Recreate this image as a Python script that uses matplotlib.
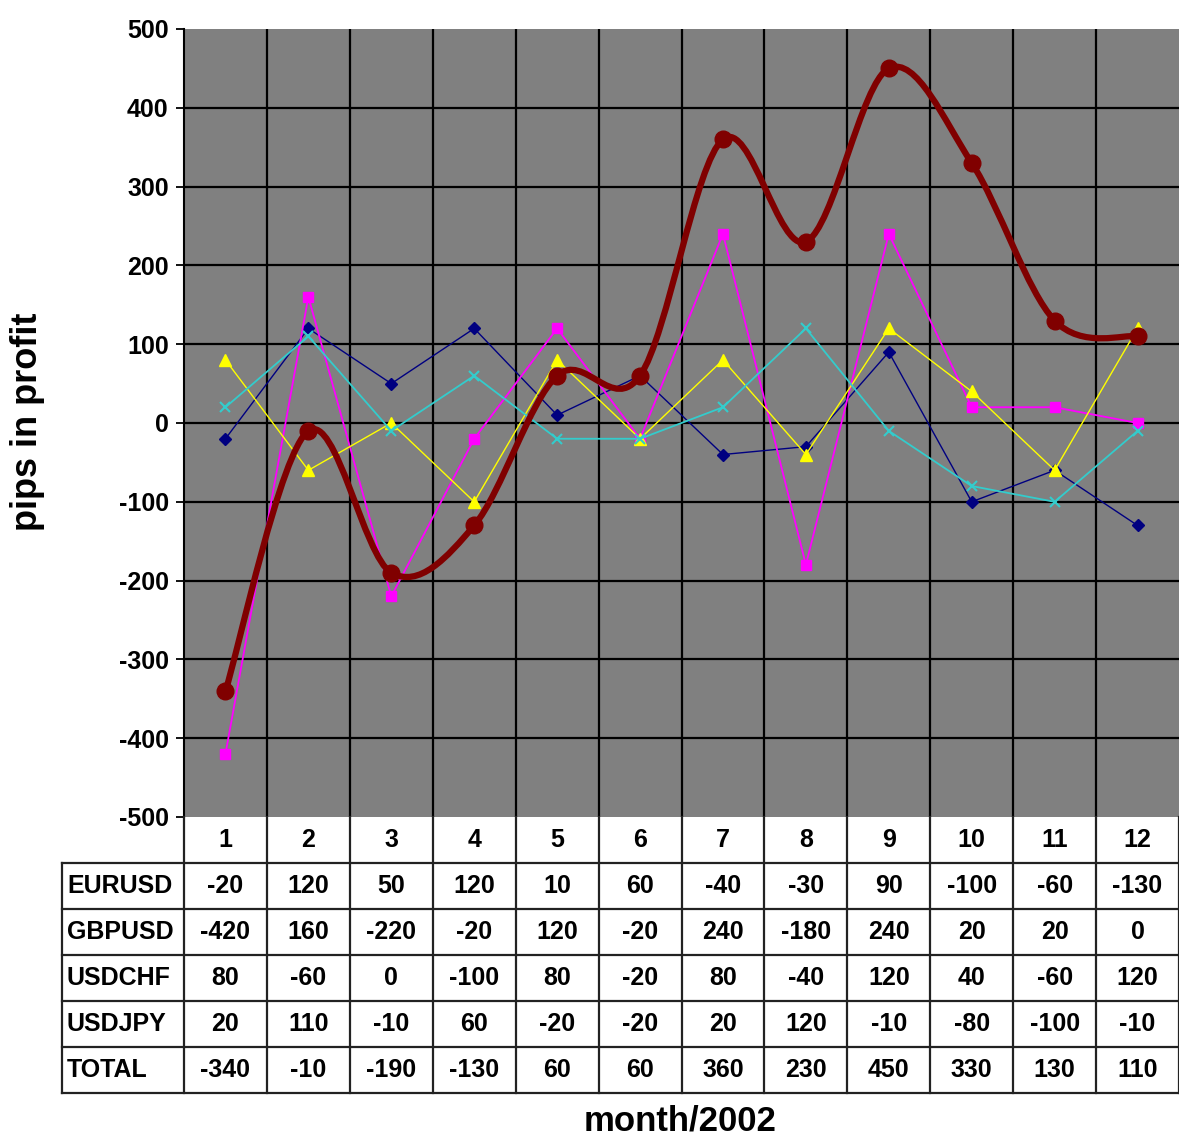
import numpy as np
import matplotlib
matplotlib.use('Agg')
from matplotlib import pyplot as plt
from matplotlib.path import Path
from matplotlib.patches import PathPatch

plt.rcParams['axes.unicode_minus'] = False
plt.rcParams['font.family'] = 'Liberation Sans'

months = [1, 2, 3, 4, 5, 6, 7, 8, 9, 10, 11, 12]
eurusd = [-20, 120, 50, 120, 10, 60, -40, -30, 90, -100, -60, -130]
gbpusd = [-420, 160, -220, -20, 120, -20, 240, -180, 240, 20, 20, 0]
usdchf = [80, -60, 0, -100, 80, -20, 80, -40, 120, 40, -60, 120]
usdjpy = [20, 110, -10, 60, -20, -20, 20, 120, -10, -80, -100, -10]
total = [-340, -10, -190, -130, 60, 60, 360, 230, 450, 330, 130, 110]
row_names = ['EURUSD', 'GBPUSD', 'USDCHF', 'USDJPY', 'TOTAL']

W, H = 1179, 1141
fig = plt.figure(figsize=(W / 100, H / 100), dpi=100)

# plot area in pixels
x0, x1, ytop, ybot = 184, 1179, 29, 817
ax = fig.add_axes([x0 / W, 1 - ybot / H, (x1 - x0) / W, (ybot - ytop) / H])
ax.set_facecolor('#808080')
ax.set_xlim(0.5, 12.5)
ax.set_ylim(-500, 500)
ax.set_yticks(range(-500, 501, 100))
ax.set_xticks([])
for b in np.arange(1.5, 12.5, 1):
    ax.axvline(b, color='black', lw=1.6, zorder=1)
for v in range(-400, 500, 100):
    ax.axhline(v, color='black', lw=1.6, zorder=1)
for s in ['top', 'right', 'bottom']:
    ax.spines[s].set_visible(False)
ax.spines['left'].set_linewidth(1.5)
ax.tick_params(axis='y', direction='out', length=6, width=1.3, labelsize=18, pad=5)
for t in ax.get_yticklabels():
    t.set_fontweight('bold')

ax.plot(months, eurusd, color='#000080', lw=1, marker='D', ms=6, zorder=3)
ax.plot(months, gbpusd, color='#FF00FF', lw=1.3, marker='s', ms=7, zorder=3)
ax.plot(months, usdchf, color='#FFFF00', lw=1, marker='^', ms=8, zorder=3)
ax.plot(months, usdjpy, color='#33CCCC', lw=1.3, marker='x', ms=7, mew=1.5, zorder=3)

# smoothed total line (Excel-style bezier through the points)
px = np.array(months, dtype=float)
py = np.array(total, dtype=float)
verts = [(px[0], py[0])]
codes = [Path.MOVETO]
n = len(px)
for i in range(n - 1):
    p0 = np.array([px[max(i - 1, 0)], py[max(i - 1, 0)]])
    p1 = np.array([px[i], py[i]])
    p2 = np.array([px[i + 1], py[i + 1]])
    p3 = np.array([px[min(i + 2, n - 1)], py[min(i + 2, n - 1)]])
    c1 = p1 + (p2 - p0) / 6
    c2 = p2 - (p3 - p1) / 6
    verts += [tuple(c1), tuple(c2), tuple(p2)]
    codes += [Path.CURVE4] * 3
ax.add_patch(PathPatch(Path(verts, codes), facecolor='none', edgecolor='#800000',
                       lw=4.5, zorder=4, capstyle='round', joinstyle='round'))
ax.plot(months, total, ls='none', marker='o', ms=12, color='#800000', zorder=5)

fig.text(28 / W, 1 - 422 / H, 'pips in profit', rotation=90, ha='center', va='center',
         fontsize=26, fontweight='bold')

# data table
tbot = 1093
rowh = (tbot - ybot) / 6
lab_w = (x0 - 62) / ((x1 - x0) / 12)
tx = fig.add_axes([62 / W, 1 - tbot / H, (x1 - 62) / W, (tbot - ybot) / H])
tx.set_xlim(0.5 - lab_w, 12.5)
tx.set_ylim(6, 0)
tx.axis('off')
lc = '#222222'
for b in np.arange(0.5, 13.5, 1):
    tx.plot([b, b], [0, 6], color=lc, lw=1.6, clip_on=False)
tx.plot([0.5 - lab_w, 0.5 - lab_w], [1, 6], color=lc, lw=1.6, clip_on=False)
for r in range(1, 7):
    tx.plot([0.5 - lab_w, 12.5], [r, r], color=lc, lw=1.6, clip_on=False)

for m in months:
    tx.text(m, 0.5, str(m), ha='center', va='center', fontsize=18, fontweight='bold')
for r, (name, vals) in enumerate(zip(row_names, [eurusd, gbpusd, usdchf, usdjpy, total])):
    tx.text(0.5 - lab_w + 0.06, r + 1.5, name, ha='left', va='center', fontsize=18,
            fontweight='bold')
    for m, v in zip(months, vals):
        tx.text(m, r + 1.5, str(v), ha='center', va='center', fontsize=18,
                fontweight='bold')

fig.text(680 / W, 1 - 1121 / H, 'month/2002', ha='center', va='center', fontsize=25,
         fontweight='bold')

fig.savefig('out.png', dpi=100)
